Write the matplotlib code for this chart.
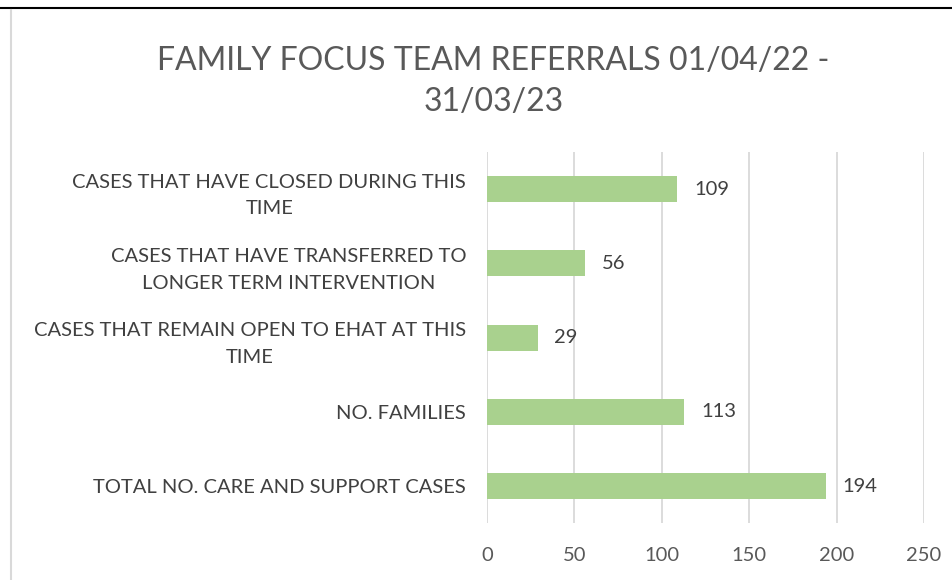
import matplotlib.pyplot as plt
import matplotlib.lines as mlines

categories = [
    "TOTAL NO. CARE AND SUPPORT CASES",
    "NO. FAMILIES",
    "CASES THAT REMAIN OPEN TO EHAT AT THIS\nTIME",
    "CASES THAT HAVE TRANSFERRED TO\nLONGER TERM INTERVENTION",
    "CASES THAT HAVE CLOSED DURING THIS\nTIME",
]
values = [194, 113, 29, 56, 109]
xticks = [0, 50, 100, 150, 200, 250]

plt.rcParams['font.family'] = ['Lato', 'DejaVu Sans']

fig = plt.figure(figsize=(9.53, 5.80), dpi=100)
ax = fig.add_axes([0.511, 0.098, 0.4585, 0.640])

pos = list(range(len(categories)))
ax.barh(pos, values, height=0.35, color='#A9D18E', zorder=3)
for y, v in zip(pos, values):
    ax.text(v + 9.5, y, str(v), va='center', ha='left', fontsize=14.5, color='#404040')

ax.set_xlim(0, 250)
ax.set_ylim(-0.5, 4.5)
ax.set_xticks(xticks)
ax.set_yticks(pos)
ax.set_yticklabels(categories, fontsize=14.5, color='#404040', ha='right',
                   multialignment='center', linespacing=1.7)
ax.tick_params(axis='x', labelsize=14.5, labelcolor='#595959', length=0, pad=17)
ax.tick_params(axis='y', length=0, pad=15)
ax.grid(axis='x', color='#d9d9d9', linewidth=1.3, zorder=0)
for s in ax.spines.values():
    s.set_visible(False)

fig.text(0.518, 0.860, "FAMILY FOCUS TEAM REFERRALS 01/04/22 -\n31/03/23",
         ha='center', va='center', fontsize=23, color='#595959', linespacing=1.45)

# page border lines
fig.add_artist(mlines.Line2D([0, 1], [1 - 8 / 580, 1 - 8 / 580], color='black', linewidth=1.5))
fig.add_artist(mlines.Line2D([11 / 953, 11 / 953], [0, 1 - 10 / 580], color='#d9d9d9', linewidth=1.5))

plt.savefig("out.png", dpi=100)
